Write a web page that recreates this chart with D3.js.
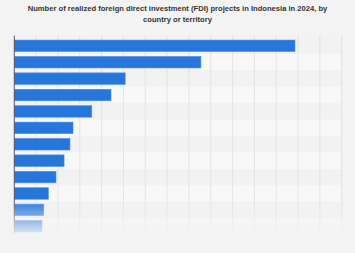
<!DOCTYPE html>
<html>
<head>
<meta charset="utf-8">
<script src="https://cdn.jsdelivr.net/npm/d3@7"></script>
<style>
  body { margin: 0; background: #f3f3f3; }
  svg { display: block; font-family: "Liberation Sans", Arial, sans-serif; }
</style>
</head>
<body>
<svg id="chart" width="355" height="253"></svg>
<script>
// values (country labels are hidden in the reference)
let countries = ["Singapore", "China", "Hong Kong", "Japan", "Malaysia", "South Korea",
    "Australia", "United States", "Netherlands", "Taiwan", "British Virgin Islands", "United Kingdom"];
let projects = [12860, 8550, 5080, 4430, 3550, 2690, 2550, 2280, 1910, 1560, 1350, 1270];
let ticks = d3.range(0, 15001, 1000);
let titleLines = ["Number of realized foreign direct investment (FDI) projects in Indonesia in 2024, by",
    "country or territory"];

let width = 355;
let height = 253;
let margin = {top: 37.6, right: 13.3, bottom: 18.5, left: 14.3};

let svg = d3.select("#chart");

svg.append("rect")
    .attr("width", width)
    .attr("height", height)
    .attr("fill", "#f3f3f3");

// title
svg.append("g")
    .selectAll("text")
    .data(titleLines)
    .join("text")
    .attr("x", width / 2)
    .attr("y", (d, i) => 11 + i * 11)
    .attr("text-anchor", "middle")
    .attr("font-size", 7.6)
    .attr("font-weight", "bold")
    .attr("fill", "#333")
    .text(d => d);

let x = d3.scaleLinear()
    .domain([0, 15000])
    .range([margin.left, width - margin.right]);

let y = d3.scaleBand()
    .domain(countries)
    .range([margin.top, height - margin.bottom])
    .paddingInner(0.3)
    .paddingOuter(0.15);

let step = y.step();

// alternating row bands
svg.append("g")
    .selectAll("rect")
    .data(countries)
    .join("rect")
    .attr("x", margin.left)
    .attr("y", (d, i) => margin.top + i * step)
    .attr("width", x(15000) - margin.left)
    .attr("height", step)
    .attr("fill", (d, i) => i % 2 == 0 ? "#f2f2f2" : "#f8f8f8");

// vertical grid
svg.append("g")
    .selectAll("line")
    .data(ticks.slice(1))
    .join("line")
    .attr("x1", d => x(d))
    .attr("x2", d => x(d))
    .attr("y1", margin.top - 2)
    .attr("y2", height - margin.bottom)
    .attr("stroke", "#d9d9d9")
    .attr("stroke-width", 1)
    .attr("stroke-dasharray", "1,0.6");

// bars
svg.append("g")
    .selectAll("rect")
    .data(projects)
    .join("rect")
    .attr("x", x(0))
    .attr("y", (d, i) => y(countries[i]))
    .attr("width", d => x(d) - x(0))
    .attr("height", y.bandwidth())
    .attr("fill", "#2776dc")
    .attr("stroke", "#4a8ee4")
    .attr("stroke-width", 0.6);

// left axis line
svg.append("line")
    .attr("x1", x(0))
    .attr("x2", x(0))
    .attr("y1", margin.top - 2)
    .attr("y2", height - margin.bottom)
    .attr("stroke", "#555")
    .attr("stroke-width", 1);

// fade out the bottom rows
let defs = svg.append("defs");
let grad = defs.append("linearGradient")
    .attr("id", "fade")
    .attr("x1", 0).attr("y1", 0)
    .attr("x2", 0).attr("y2", 1);
grad.append("stop").attr("offset", "0%").attr("stop-color", "#f3f3f3").attr("stop-opacity", 0);
grad.append("stop").attr("offset", "100%").attr("stop-color", "#f3f3f3").attr("stop-opacity", 1);

svg.append("rect")
    .attr("x", 0)
    .attr("y", 200)
    .attr("width", width)
    .attr("height", 38)
    .attr("fill", "url(#fade)");
svg.append("rect")
    .attr("x", 0)
    .attr("y", 238)
    .attr("width", width)
    .attr("height", height - 238)
    .attr("fill", "#f3f3f3");
</script>
</body>
</html>
